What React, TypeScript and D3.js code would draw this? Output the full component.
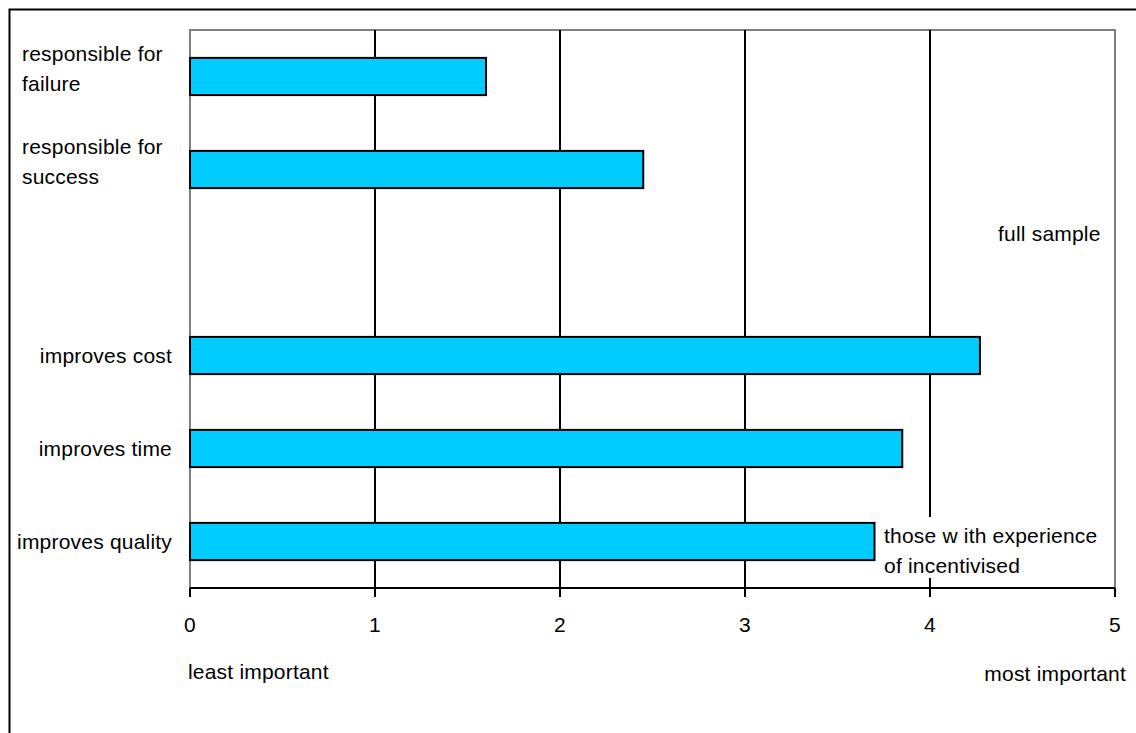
import React from "react";
import * as d3 from "d3";

// Survey rating of incentive aspects, scored 0 (least important) to 5 (most important)
const categories = [
  "responsible for failure",
  "responsible for success",
  "gap",
  "improves cost",
  "improves time",
  "improves quality",
];
const categoryLines: string[][] = [
  ["responsible for", "failure"],
  ["responsible for", "success"],
  [],
  ["improves cost"],
  ["improves time"],
  ["improves quality"],
];
const scores: (number | null)[] = [1.6, 2.45, null, 4.27, 3.85, 3.7];
const xTicks = [0, 1, 2, 3, 4, 5];

const W = 1136;
const H = 733;
const plot = { left: 190, right: 1115, top: 30, bottom: 588 };
const FONT = "'Liberation Sans', Arial, sans-serif";
const FS = 21;

export default function App() {
  const x = d3.scaleLinear().domain([0, 5]).range([plot.left, plot.right]);
  const y = d3
    .scaleBand<string>()
    .domain(categories)
    .range([plot.top, plot.bottom])
    .paddingInner(0.6)
    .paddingOuter(0.3);

  return (
    <svg
      width={W}
      height={H}
      style={{ position: "absolute", left: 0, top: 0, background: "#fff" }}
      fontFamily={FONT}
      fontSize={FS}
      letterSpacing={0.2}
    >
      {/* outer chart frame */}
      <rect x={9.5} y={9.5} width={W + 20} height={H + 20} fill="#fff" stroke="#000" strokeWidth={2} />

      {/* plot area frame */}
      <rect
        x={plot.left}
        y={plot.top}
        width={plot.right - plot.left}
        height={plot.bottom - plot.top}
        fill="#fff"
        stroke="#808080"
        strokeWidth={2}
      />

      {/* vertical gridlines */}
      {xTicks.slice(1, -1).map((t) => (
        <line key={t} x1={x(t)} x2={x(t)} y1={plot.top} y2={plot.bottom} stroke="#000" strokeWidth={2} />
      ))}

      {/* bars */}
      {categories.map((c, i) => {
        const v = scores[i];
        if (v == null) return null;
        return (
          <rect
            key={c}
            x={x(0)}
            y={y(c)!}
            width={x(v) - x(0)}
            height={y.bandwidth()}
            fill="#00ccff"
            stroke="#000"
            strokeWidth={2}
          />
        );
      })}

      {/* x axis */}
      <line x1={plot.left} x2={plot.right} y1={plot.bottom} y2={plot.bottom} stroke="#000" strokeWidth={2} />
      {xTicks.map((t) => (
        <g key={t}>
          <line x1={x(t)} x2={x(t)} y1={plot.bottom} y2={plot.bottom + 9} stroke="#000" strokeWidth={2} />
          <text x={x(t)} y={plot.bottom + 44} textAnchor="middle" fill="#000">
            {t}
          </text>
        </g>
      ))}

      {/* category labels */}
      {categories.map((c, i) => {
        const lines = categoryLines[i];
        const cy = y(c)! + y.bandwidth() / 2;
        if (lines.length === 2) {
          return (
            <text key={c} x={22} fill="#000">
              <tspan x={22} y={cy - 16}>{lines[0]}</tspan>
              <tspan x={22} y={cy + 14}>{lines[1]}</tspan>
            </text>
          );
        }
        if (lines.length === 1) {
          return (
            <text key={c} x={172} y={cy + 7} textAnchor="end" fill="#000">
              {lines[0]}
            </text>
          );
        }
        return null;
      })}

      {/* annotations */}
      <text x={998} y={241} fill="#000">full sample</text>
      <rect x={877} y={517} width={228} height={61} fill="#fff" />
      <text fill="#000">
        <tspan x={884} y={543}>those w ith experience</tspan>
        <tspan x={884} y={573}>of incentivised</tspan>
      </text>

      <text x={188} y={679} fill="#000">least important</text>
      <text x={1126} y={681} textAnchor="end" fill="#000">most important</text>
    </svg>
  );
}
